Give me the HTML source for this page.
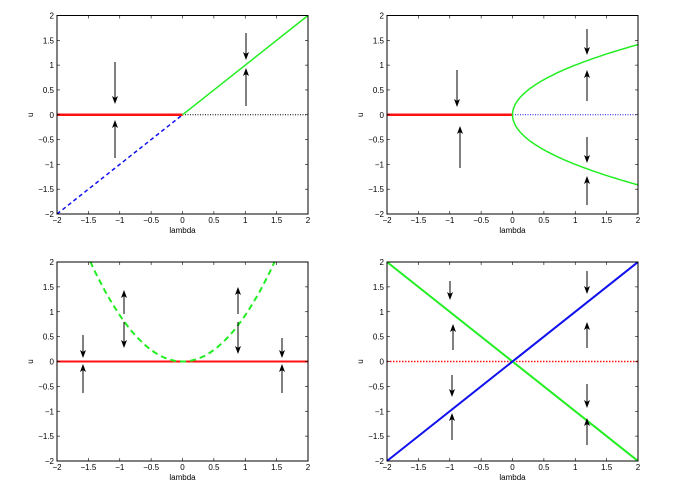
<!DOCTYPE html><html><head><meta charset="utf-8"><style>body{margin:0;background:#fff}svg{display:block}text{font-family:"Liberation Sans",sans-serif;font-size:8px}</style></head><body>
<svg id="s" width="686" height="493" xmlns="http://www.w3.org/2000/svg"></svg>
<script>
var s=document.getElementById('s'),h='';
var P=[[57,15.5,308,214],[387,15.5,638,214],[57,262,308,461],[387,262,638,461]];
function X(p,l){return p[0]+(l+2)/4*(p[2]-p[0]);}
function Y(p,u){return p[1]+(2-u)/4*(p[3]-p[1]);}
function line(p,pts,c,w,d){var a=pts.map(function(q){return X(p,q[0]).toFixed(1)+','+Y(p,q[1]).toFixed(1)}).join(' ');h+='<polyline points="'+a+'" fill="none" stroke="'+c+'" stroke-width="'+w+'"'+(d?' stroke-dasharray="'+d+'"':'')+'/>';}
function fn(p,f,a,b,c,w,d){var pts=[];for(var i=0;i<=60;i++){var l=a+(b-a)*i/60;pts.push([l,f(l)]);}line(p,pts,c,w,d);}
function arr(x,y1,y2){var dir=y2>y1?1:-1;h+='<line x1="'+x+'" y1="'+y1+'" x2="'+x+'" y2="'+(y2-dir*6)+'" stroke="#000" stroke-width="1"/><polygon points="'+(x-3)+','+(y2-dir*8)+' '+x+','+y2+' '+(x+3)+','+(y2-dir*8)+' '+x+','+(y2-dir*6)+'" fill="#000"/>';}
function axes(p){h+='<rect x="'+p[0]+'" y="'+p[1]+'" width="'+(p[2]-p[0])+'" height="'+(p[3]-p[1])+'" fill="none" stroke="#000" stroke-width="1"/>';
for(var i=0;i<=8;i++){var v=-2+i*0.5,x=X(p,v),y=Y(p,v);var t=(v<0?'\u2212':'')+Math.abs(v);
h+='<line x1="'+x+'" y1="'+p[3]+'" x2="'+x+'" y2="'+(p[3]-3)+'" stroke="#000" stroke-width=".6"/><line x1="'+x+'" y1="'+p[1]+'" x2="'+x+'" y2="'+(p[1]+3)+'" stroke="#000" stroke-width=".6"/>';
h+='<line x1="'+p[0]+'" y1="'+y+'" x2="'+(p[0]+3)+'" y2="'+y+'" stroke="#000" stroke-width=".6"/><line x1="'+p[2]+'" y1="'+y+'" x2="'+(p[2]-3)+'" y2="'+y+'" stroke="#000" stroke-width=".6"/>';
h+='<text x="'+x+'" y="'+(p[3]+9)+'" text-anchor="middle">'+t+'</text><text x="'+(p[0]-3)+'" y="'+(y+3)+'" text-anchor="end">'+t+'</text>';}
h+='<text x="'+((p[0]+p[2])/2)+'" y="'+(p[3]+19)+'" text-anchor="middle">lambda</text>';
h+='<text x="'+(p[0]-24)+'" y="'+((p[1]+p[3])/2)+'" text-anchor="middle" transform="rotate(-90 '+(p[0]-24)+' '+((p[1]+p[3])/2)+')">u</text>';}
var G='#22ee22',R='#ff1111',B='#1111ee';
var p=P[0];line(p,[[-2,-2],[0,0]],B,1.5,'4,3');line(p,[[0,0],[2,0]],'#000',1,'1,1.5');line(p,[[-2,0],[0,0]],R,2.5);line(p,[[0,0],[2,2]],G,1.5);
arr(115,62,104);arr(115,158,120);arr(246,33,60);arr(246,106,68);axes(p);
p=P[1];line(p,[[0,0],[2,0]],B,1,'1,1.5');line(p,[[-2,0],[0,0]],R,2.5);
var pts=[];for(var i=0;i<=80;i++){var u=-Math.SQRT2+2*Math.SQRT2*i/80;pts.push([u*u,u]);}line(p,pts,G,1.5);
arr(457,70,107);arr(460,168,126);arr(587,29,55);arr(587,101,70);arr(587,137,163);arr(587,205,176);axes(p);
p=P[2];line(p,[[-2,0],[2,0]],R,2);fn(p,function(l){return 0.93*l*l},-1.47,1.47,G,2,'6,4');
arr(83,335,358);arr(83,393,364);arr(124,314,290);arr(124,322,348);arr(238,314,287);arr(238,322,354);arr(282,338,358);arr(282,393,364);axes(p);
p=P[3];line(p,[[-2,0],[2,0]],R,1.5,'1.5,1.5');line(p,[[-2,2],[2,-2]],G,2);line(p,[[-2,-2],[2,2]],B,2);
arr(450,281,300);arr(453,350,324);arr(452,375,397);arr(452,440,413);arr(587,271,294);arr(587,348,322);arr(587,384,408);arr(587,445,418);axes(p);
s.innerHTML=h;
</script></body></html>
